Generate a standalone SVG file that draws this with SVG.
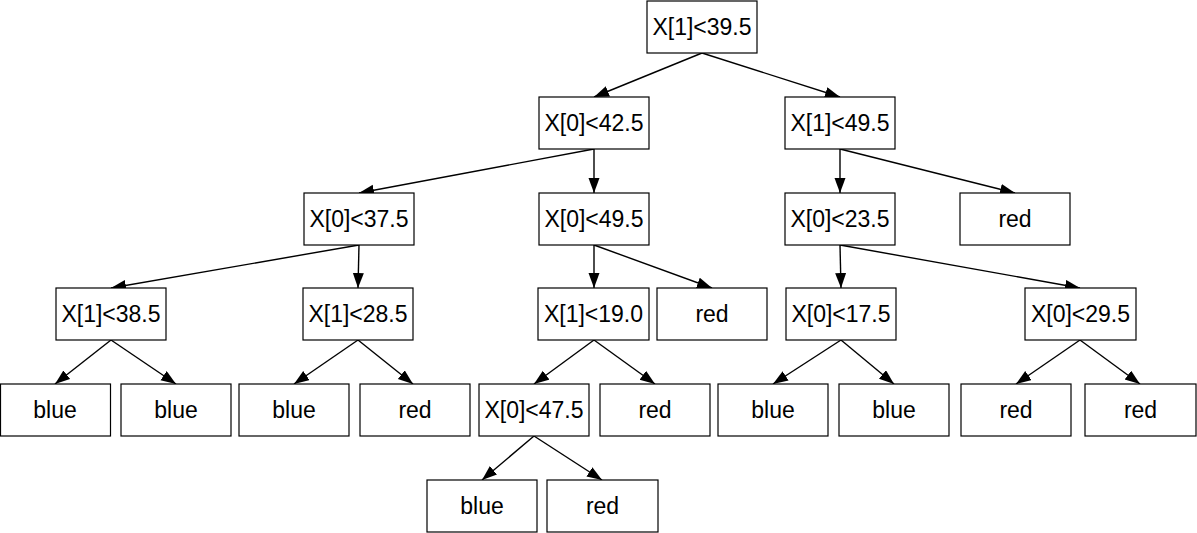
<svg xmlns="http://www.w3.org/2000/svg" width="1197" height="533" viewBox="0 0 1197 533">
<style>
.box{fill:#fff;stroke:#000;stroke-width:1.2}
.t{font-family:"Liberation Sans",Arial,sans-serif;font-size:23px;fill:#000;text-anchor:middle}
.e{stroke:#000;stroke-width:1.4;fill:none;marker-end:url(#ah)}
</style>
<defs>
<marker id="ah" markerUnits="userSpaceOnUse" markerWidth="16" markerHeight="12" refX="15" refY="5.5" orient="auto">
<path d="M0,0 L15,5.5 L0,11 Z" fill="#000"/>
</marker>
</defs>
<rect width="1197" height="533" fill="#fff"/>
<g id="connectors">
<line class="e" x1="702" y1="53" x2="594" y2="97"/>
<line class="e" x1="702" y1="53" x2="840" y2="97"/>
<line class="e" x1="594" y1="149" x2="359" y2="193"/>
<line class="e" x1="594" y1="149" x2="594" y2="193"/>
<line class="e" x1="840" y1="149" x2="840" y2="193"/>
<line class="e" x1="840" y1="149" x2="1015" y2="193"/>
<line class="e" x1="359" y1="245" x2="111" y2="288"/>
<line class="e" x1="359" y1="245" x2="358" y2="288"/>
<line class="e" x1="594" y1="245" x2="594" y2="288"/>
<line class="e" x1="594" y1="245" x2="712" y2="288"/>
<line class="e" x1="840" y1="245" x2="841" y2="288"/>
<line class="e" x1="840" y1="245" x2="1080" y2="288"/>
<line class="e" x1="111" y1="340" x2="55" y2="384"/>
<line class="e" x1="111" y1="340" x2="176" y2="384"/>
<line class="e" x1="358" y1="340" x2="294" y2="384"/>
<line class="e" x1="358" y1="340" x2="413" y2="384"/>
<line class="e" x1="594" y1="340" x2="534" y2="384"/>
<line class="e" x1="594" y1="340" x2="655" y2="384"/>
<line class="e" x1="841" y1="340" x2="773" y2="384"/>
<line class="e" x1="841" y1="340" x2="894" y2="384"/>
<line class="e" x1="1080" y1="340" x2="1016" y2="384"/>
<line class="e" x1="1080" y1="340" x2="1140" y2="384"/>
<line class="e" x1="534" y1="436" x2="482" y2="480"/>
<line class="e" x1="534" y1="436" x2="602" y2="480"/>
</g>
<g id="n0"><rect class="box" x="647" y="1" width="110" height="52"/><text class="t" x="702" y="35">X[1]&lt;39.5</text></g>
<g id="n1"><rect class="box" x="539" y="97" width="110" height="52"/><text class="t" x="594" y="131">X[0]&lt;42.5</text></g>
<g id="n2"><rect class="box" x="785" y="97" width="110" height="52"/><text class="t" x="840" y="131">X[1]&lt;49.5</text></g>
<g id="n3"><rect class="box" x="304" y="193" width="110" height="52"/><text class="t" x="359" y="227">X[0]&lt;37.5</text></g>
<g id="n4"><rect class="box" x="539" y="193" width="110" height="52"/><text class="t" x="594" y="227">X[0]&lt;49.5</text></g>
<g id="n5"><rect class="box" x="785" y="193" width="110" height="52"/><text class="t" x="840" y="227">X[0]&lt;23.5</text></g>
<g id="n6"><rect class="box" x="960" y="193" width="110" height="52"/><text class="t" x="1015" y="227">red</text></g>
<g id="n7"><rect class="box" x="56" y="288" width="110" height="52"/><text class="t" x="111" y="322">X[1]&lt;38.5</text></g>
<g id="n8"><rect class="box" x="303" y="288" width="110" height="52"/><text class="t" x="358" y="322">X[1]&lt;28.5</text></g>
<g id="n9"><rect class="box" x="538" y="288" width="111" height="52"/><text class="t" x="593.5" y="322">X[1]&lt;19.0</text></g>
<g id="n10"><rect class="box" x="657" y="288" width="110" height="52"/><text class="t" x="712" y="322">red</text></g>
<g id="n11"><rect class="box" x="786" y="288" width="110" height="52"/><text class="t" x="841" y="322">X[0]&lt;17.5</text></g>
<g id="n12"><rect class="box" x="1025" y="288" width="111" height="52"/><text class="t" x="1080.5" y="322">X[0]&lt;29.5</text></g>
<g id="n13"><rect class="box" x="0.5" y="384" width="110" height="52"/><text class="t" x="55" y="418">blue</text></g>
<g id="n14"><rect class="box" x="121" y="384" width="110" height="52"/><text class="t" x="176" y="418">blue</text></g>
<g id="n15"><rect class="box" x="239" y="384" width="110" height="52"/><text class="t" x="294" y="418">blue</text></g>
<g id="n16"><rect class="box" x="360" y="384" width="110" height="52"/><text class="t" x="415" y="418">red</text></g>
<g id="n17"><rect class="box" x="479" y="384" width="110" height="52"/><text class="t" x="534" y="418">X[0]&lt;47.5</text></g>
<g id="n18"><rect class="box" x="600" y="384" width="110" height="52"/><text class="t" x="655" y="418">red</text></g>
<g id="n19"><rect class="box" x="718" y="384" width="110" height="52"/><text class="t" x="773" y="418">blue</text></g>
<g id="n20"><rect class="box" x="839" y="384" width="110" height="52"/><text class="t" x="894" y="418">blue</text></g>
<g id="n21"><rect class="box" x="961" y="384" width="110" height="52"/><text class="t" x="1016" y="418">red</text></g>
<g id="n22"><rect class="box" x="1085" y="384" width="111" height="52"/><text class="t" x="1140.5" y="418">red</text></g>
<g id="n23"><rect class="box" x="427" y="480" width="110" height="52"/><text class="t" x="482" y="514">blue</text></g>
<g id="n24"><rect class="box" x="547" y="480" width="111" height="52"/><text class="t" x="602.5" y="514">red</text></g>
</svg>
